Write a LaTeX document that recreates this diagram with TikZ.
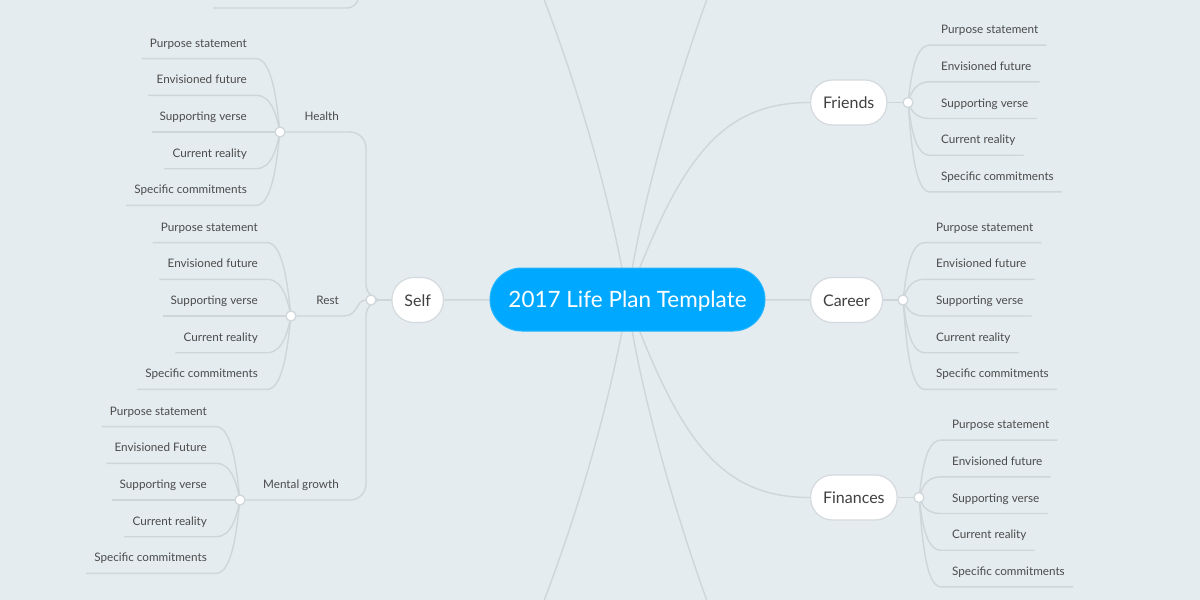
\documentclass[tikz,border=0pt]{standalone}
\usepackage{fontspec}
\setmainfont{Lato}
\usetikzlibrary{backgrounds,calc}
\definecolor{bgc}{RGB}{228,236,239}
\definecolor{linec}{RGB}{207,214,218}
\definecolor{rootc}{RGB}{0,168,255}
\definecolor{txtc}{RGB}{75,75,75}
\definecolor{pilltxt}{RGB}{64,64,64}
\definecolor{pillborder}{RGB}{212,218,222}
\tikzset{
  conn/.style={draw=linec, line width=1.4pt},
  pill/.style={draw=pillborder, line width=1.2pt, fill=white, rounded corners=22pt,
    minimum height=45pt, inner xsep=12.5pt, text=pilltxt, font=\fontsize{16}{19}\selectfont},
  rootnode/.style={fill=rootc, draw=rootc!85!white, line width=1pt, rounded corners=31.5pt,
    minimum height=63pt, minimum width=275pt, text=white, font=\fontsize{22.5}{26}\selectfont},
  knob/.style={circle, draw=linec, line width=1.2pt, fill=white, minimum size=10pt, inner sep=0pt},
  leaf/.style={inner xsep=8pt, inner ysep=0pt, text=txtc, font=\fontsize{11.7}{14}\selectfont},
  sub/.style={inner sep=0pt, text=txtc, font=\fontsize{11.7}{14}\selectfont},
}
\newcommand\lowered[2]{\raisebox{#1}[0pt][0pt]{#2}}
% left sub-group: name, circle x, circle y, list of leaves
\newcommand\LeftGroup[4]{%
  \node[knob] (#1) at (#2,#3) {};
  \foreach \txt [count=\i from 0] in {#4} {
    \pgfmathsetmacro\yu{#3+(\i-2)*36.7}
    \node[leaf, anchor=base east] (#1-\i) at (#2-25,\yu-11.5) {\txt};
    \coordinate (#1-\i-y) at (0,\yu);
    \begin{pgfonlayer}{background}
      \draw[conn] (#1-\i.west |- #1-\i-y) -- (#2-24,\yu)
        .. controls (#2-7,\yu) and (#2-3,{#3+(\yu-#3)*0.35}) .. (#1.center);
    \end{pgfonlayer}
  }
}
% right group: name, circle x, circle y, list of leaves
\newcommand\RightGroup[4]{%
  \node[knob] (#1) at (#2,#3) {};
  \foreach \txt [count=\i from 0] in {#4} {
    \pgfmathsetmacro\yu{#3+16+(\i-2)*36.7}
    \node[leaf, anchor=base west] (#1-\i) at (#2+25,\yu-11.5) {\txt};
    \coordinate (#1-\i-y) at (0,\yu);
    \begin{pgfonlayer}{background}
      \draw[conn] (#1.center) .. controls (#2+3,{#3+(\yu-#3)*0.4}) and (#2+6,\yu) .. (#2+22,\yu)
        -- (#1-\i.east |- #1-\i-y);
    \end{pgfonlayer}
  }
}
\begin{document}
\begin{tikzpicture}[x=1pt,y=-1pt]
\useasboundingbox (0,0) rectangle (1200,600);
\begin{pgfonlayer}{background}
  \fill[bgc] (0,0) rectangle (1200,600);
\end{pgfonlayer}
% main nodes
\node[rootnode] (root) at (627.5,299.5) {\lowered{-8pt}{2017 Life Plan Template}};
\node[pill, anchor=east] (self) at (444,300) {\lowered{-6pt}{Self}};
\node[pill, anchor=west] (friends) at (810,102.5) {\lowered{-6pt}{Friends}};
\node[pill, anchor=west] (career) at (810,300) {\lowered{-6pt}{Career}};
\node[pill, anchor=west] (finances) at (810,497.5) {\lowered{-6pt}{Finances}};
\node[knob] (sc) at (371,300) {};
% sub labels of Self
\node[sub, anchor=base east] (health) at (339,120.5) {Health};
\node[sub, anchor=base east] (rest) at (339,304.5) {Rest};
\node[sub, anchor=base east] (mental) at (339,488.5) {Mental growth};
% leaf groups
\LeftGroup{hc}{280}{132}{Purpose statement,Envisioned future,Supporting verse,Current reality,Specific commitments}
\LeftGroup{rc}{291}{316}{Purpose statement,Envisioned future,Supporting verse,Current reality,Specific commitments}
\LeftGroup{mc}{240}{500}{Purpose statement,Envisioned Future,Supporting verse,Current reality,Specific commitments}
\RightGroup{fc}{908}{102.5}{Purpose statement,Envisioned future,Supporting verse,Current reality,Specific commitments}
\RightGroup{cc}{903}{300}{Purpose statement,Envisioned future,Supporting verse,Current reality,Specific commitments}
\RightGroup{fnc}{919}{497.5}{Purpose statement,Envisioned future,Supporting verse,Current reality,Specific commitments}
% off-canvas ends
\coordinate (tl) at (520,-60);
\coordinate (tr) at (730,-60);
\coordinate (bl) at (520,660);
\coordinate (br) at (730,660);
\coordinate (offa) at (213,8);
\coordinate (offb) at (360,-8);
\begin{pgfonlayer}{background}
  \clip (0,0) rectangle (1200,600);
  \draw[conn] (root.center) .. controls (680,160) and (720,102.5) .. (friends.west);
  \draw[conn] (root.center) .. controls (680,440) and (720,497.5) .. (finances.west);
  \draw[conn] (root.center) .. controls (637,220) and (680,60) .. (tr);
  \draw[conn] (root.center) .. controls (615,220) and (580,80) .. (tl);
  \draw[conn] (root.center) .. controls (637,380) and (680,540) .. (br);
  \draw[conn] (root.center) .. controls (615,380) and (580,520) .. (bl);
  \draw[conn] (root.center) -- (career.center);
  \draw[conn] (root.center) -- (self.center);
  \draw[conn] (self.center) -- (sc.center);
  \draw[conn] (friends.center) -- (fc.center);
  \draw[conn] (career.center) -- (cc.center);
  \draw[conn] (finances.center) -- (fnc.center);
  \draw[conn, rounded corners=16pt] (hc.center) -- (366,132) -- (366,300) -- (sc.center);
  \draw[conn] (sc.center) -- (366,300) .. controls (356,300) and (358,316) .. (344,316) -- (rc.center);
  \draw[conn, rounded corners=16pt] (mc.center) -- (366,500) -- (366,300) -- (sc.center);
  \draw[conn] (offa) -- (346,8) .. controls (354,8) and (358,4) .. (offb);
\end{pgfonlayer}
\end{tikzpicture}
\end{document}
